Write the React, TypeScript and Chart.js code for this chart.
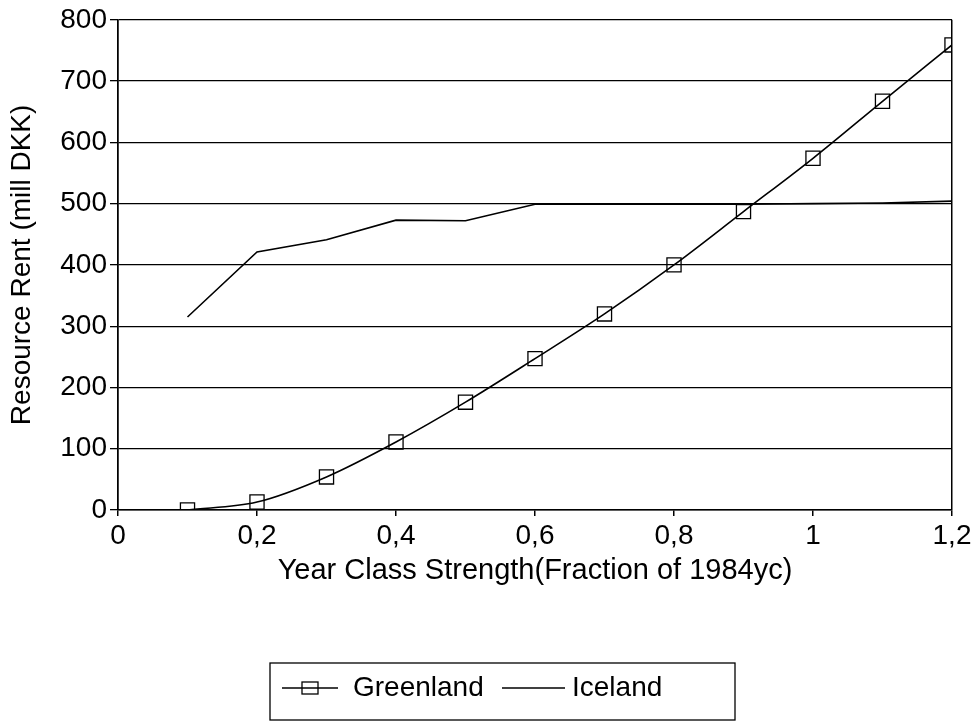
import React, { useEffect, useRef } from "react";
import { Chart, registerables } from "chart.js";

Chart.register(...registerables);

const xValues = [0.1, 0.2, 0.3, 0.4, 0.5, 0.6, 0.7, 0.8, 0.9, 1.0, 1.1, 1.2];
const greenland = [0, 13, 54, 111, 176, 247, 320, 400, 487, 574, 667, 759];
const iceland = [315, 421, 441, 473, 472, 499, 499, 499, 499, 500, 501, 504];
const seriesNames = ["Greenland", "Iceland"];
const xTitle = "Year Class Strength(Fraction of 1984yc)";
const yTitle = "Resource Rent (mill DKK)";

const FONT = "'Liberation Sans', Arial, Helvetica, sans-serif";

const legendPlugin = {
  id: "boxLegend",
  afterDraw(chart: any) {
    const ctx = chart.ctx;
    const left = 270, right = 735, top = 663, bottom = 720;
    const cy = 688;
    ctx.save();
    ctx.strokeStyle = "#000";
    ctx.lineWidth = 1.3;
    ctx.strokeRect(left, top, right - left, bottom - top);
    ctx.font = `28px ${FONT}`;
    ctx.fillStyle = "#000";
    ctx.textBaseline = "middle";
    const items = [
      { x0: 282, x1: 338, tx: 353, ds: chart.data.datasets[0], marker: true },
      { x0: 502, x1: 565, tx: 572, ds: chart.data.datasets[1], marker: false },
    ];
    for (const it of items) {
      ctx.lineWidth = 1.5;
      ctx.beginPath();
      ctx.moveTo(it.x0, cy);
      ctx.lineTo(it.x1, cy);
      ctx.stroke();
      if (it.marker) {
        ctx.lineWidth = 1.3;
        ctx.strokeRect(302, cy - 6, 16, 12);
      }
      ctx.fillText(it.ds.label, it.tx, cy);
    }
    ctx.restore();
  },
};

export default function App() {
  const ref = useRef<HTMLCanvasElement>(null);
  useEffect(() => {
    if (!ref.current) return;
    const chart = new Chart(ref.current, {
      type: "line",
      data: {
        datasets: [
          {
            label: seriesNames[0],
            data: xValues.map((x, i) => ({ x, y: greenland[i] })),
            borderColor: "#000",
            borderWidth: 1.6,
            pointStyle: "rect",
            pointRadius: 10,
            pointBorderWidth: 1.3,
            pointBorderColor: "#000",
            pointBackgroundColor: "rgba(0,0,0,0)",
            cubicInterpolationMode: "monotone",
            fill: false,
          },
          {
            label: seriesNames[1],
            data: xValues.map((x, i) => ({ x, y: iceland[i] })),
            borderColor: "#000",
            borderWidth: 1.6,
            pointRadius: 0,
            tension: 0,
            fill: false,
          },
        ],
      },
      options: {
        animation: false,
        responsive: false,
        devicePixelRatio: 1,
        layout: { padding: { left: 0, right: 23, top: 18, bottom: 0 } },
        plugins: { legend: { display: false }, tooltip: { enabled: false } },
        scales: {
          x: {
            type: "linear",
            min: 0,
            max: 1.2,
            afterFit: (s: any) => { s.height = 215; },
            ticks: {
              stepSize: 0.2,
              color: "#000",
              padding: 3,
              font: { family: FONT, size: 28 },
              maxRotation: 0,
              callback: (v: any) => String(Number(Number(v).toFixed(1))).replace(".", ","),
            },
            grid: {
              drawOnChartArea: true,
              color: (c: any) => (c.tick && (Math.abs(c.tick.value) < 1e-6 || Math.abs(c.tick.value - 1.2) < 1e-6) ? "#000" : "rgba(0,0,0,0)"),
              tickColor: "#000",
              tickLength: 6,
              lineWidth: 1.5,
            },
            border: { display: true, color: "#000", width: 1.5 },
            title: {
              display: true,
              text: xTitle,
              color: "#000",
              font: { family: FONT, size: 29 },
              padding: { top: 0, bottom: 137 },
            },
          },
          y: {
            min: 0,
            max: 800,
            afterFit: (s: any) => { s.width = 118; },
            ticks: {
              stepSize: 100,
              color: "#000",
              padding: 3,
              font: { family: FONT, size: 28 },
            },
            grid: {
              color: "#000",
              tickColor: "#000",
              tickLength: 8,
              lineWidth: 1.3,
            },
            border: { display: true, color: "#000", width: 1.5 },
            title: {
              display: true,
              text: yTitle,
              color: "#000",
              font: { family: FONT, size: 28 },
              padding: { top: 5, bottom: 0 },
            },
          },
        },
      },
      plugins: [legendPlugin],
    } as any);
    return () => chart.destroy();
  }, []);
  return (
    <div style={{ position: "fixed", left: 0, top: 0, width: 975, height: 725, background: "#fff" }}>
      <canvas ref={ref} width={975} height={725} />
    </div>
  );
}
